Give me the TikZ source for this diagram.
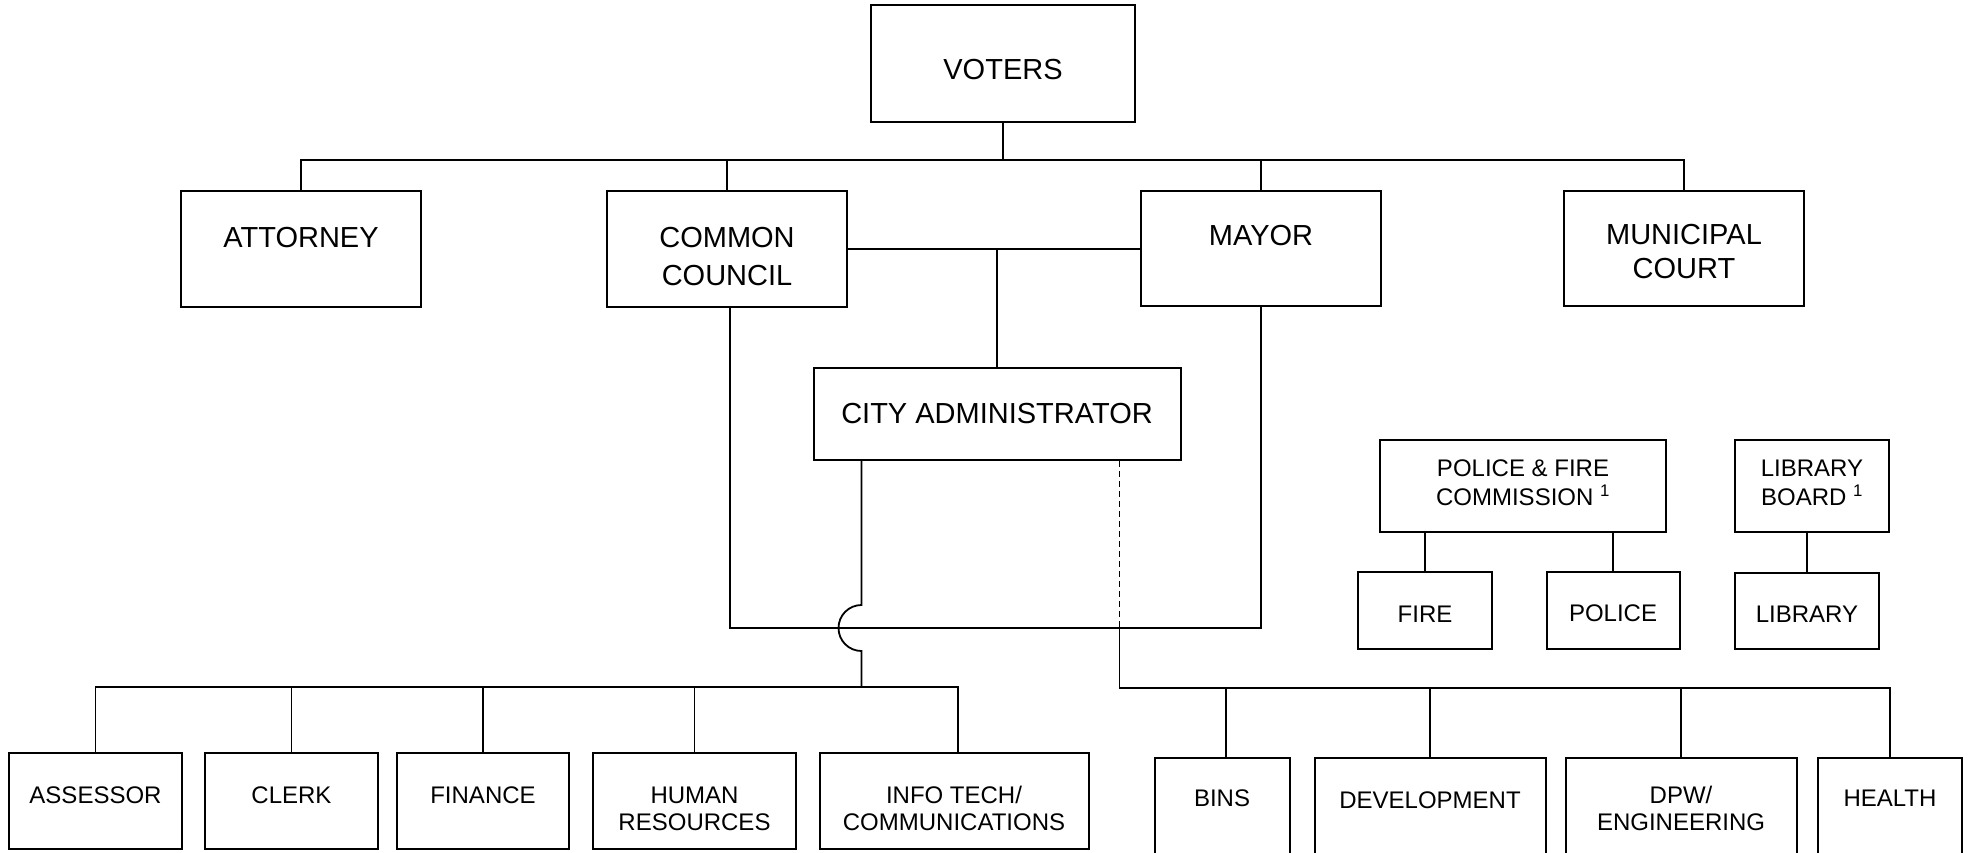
\documentclass[tikz,border=0pt]{standalone}
\usepackage{fontspec}
\setmainfont{Liberation Sans}
\newcommand{\down}[1]{\rule{0pt}{#1}}
\newcommand{\up}[1]{\rule[-#1]{0pt}{#1}}
\begin{document}
\begin{tikzpicture}[x=1pt, y=-1pt,
		box/.style = {draw, line width=2pt, inner sep=0pt, align=center},
		big/.style = {box, font=\fontsize{29}{34}\selectfont},
		small/.style = {box, font=\fontsize{24}{27}\selectfont},
		link/.style = {line width=1.8pt}
	]
	\clip (0,0) rectangle (1971,852);
	\node[big, minimum width=264pt, minimum height=117pt] (voters) at (1003,63.5) {\down{33pt}VOTERS};
	\node[big, minimum width=240pt, minimum height=116pt] (attorney) at (301,249) {\down{30pt}ATTORNEY\\\mbox{}};
	\node[big, font=\fontsize{29}{38}\selectfont, minimum width=240pt, minimum height=116pt] (council) at (727,249) {\down{36pt}COMMON\\COUNCIL};
	\node[big, minimum width=240pt, minimum height=115pt] (mayor) at (1261,248) {\down{28pt}MAYOR\\\mbox{}};
	\node[big, minimum width=240pt, minimum height=115pt] (court) at (1684,248) {\down{28pt}MUNICIPAL\\COURT};
	\node[big, minimum width=367pt, minimum height=92pt] (admin) at (997,414) {CITY ADMINISTRATOR};
	\node[small, font=\fontsize{24}{29}\selectfont, minimum width=286pt, minimum height=92pt] (commission) at (1523,486) {POLICE \& FIRE\\COMMISSION \textsuperscript{1}\up{6pt}};
	\node[small, font=\fontsize{24}{29}\selectfont, minimum width=154pt, minimum height=92pt] (board) at (1812,486) {LIBRARY\\BOARD \textsuperscript{1}\up{6pt}};
	\node[small, minimum width=134pt, minimum height=77pt] (fire) at (1425,610) {\down{24pt}FIRE};
	\node[small, minimum width=133pt, minimum height=77pt] (police) at (1613,610) {\down{24pt}POLICE};
	\node[small, minimum width=144pt, minimum height=76pt] (library) at (1807,611) {\down{22pt}LIBRARY};
	\node[small, minimum width=173pt, minimum height=96pt] (assessor) at (95.5,801) {\down{31.5pt}ASSESSOR\\\mbox{}};
	\node[small, minimum width=173pt, minimum height=96pt] (clerk) at (291.5,801) {\down{31.5pt}CLERK\\\mbox{}};
	\node[small, minimum width=172pt, minimum height=96pt] (finance) at (483,801) {\down{31.5pt}FINANCE\\\mbox{}};
	\node[small, minimum width=203pt, minimum height=96pt] (hr) at (694.5,801) {\down{31.5pt}HUMAN\\RESOURCES};
	\node[small, minimum width=269pt, minimum height=96pt] (infotech) at (954,801) {\down{31.5pt}INFO TECH/\\COMMUNICATIONS};
	\node[small, minimum width=135pt, minimum height=100pt] (bins) at (1222,808) {\down{24pt}BINS\\\mbox{}};
	\node[small, minimum width=231pt, minimum height=100pt] (development) at (1430,808) {\down{28.5pt}DEVELOPMENT\\\mbox{}};
	\node[small, minimum width=231pt, minimum height=100pt] (dpw) at (1681,808) {DPW/\\ENGINEERING};
	\node[small, minimum width=144pt, minimum height=100pt] (health) at (1890,808) {\down{24pt}HEALTH\\\mbox{}};

	\coordinate (topbus) at (0,160);
	\coordinate (hop) at (0,605);
	\coordinate (ring) at (0,628);
	\coordinate (leftbus) at (0,687);
	\coordinate (rightbus) at (0,688);

	\draw[link] (voters.south) -- (voters.south |- topbus);
	\draw[link] (attorney.north) -- (attorney.north |- topbus) -| (court.north);
	\foreach \n in {council,mayor}
		\draw[link] (\n.north) -- (\n.north |- topbus);
	\draw[link] (council.east) -- (council.east -| mayor.west);
	\draw[link] (admin.north) -- (admin.north |- council.east);
	\draw[link] ([xshift=3pt]council.south) -- ([xshift=3pt]council.south |- ring) -| (mayor.south);
	\draw[link] ([xshift=49pt]admin.south west) coordinate (solid) -- (solid |- hop)
		arc[start angle=270, end angle=90, radius=23] -- (solid |- leftbus);
	\draw[link] (assessor.north) -- (assessor.north |- leftbus) -| ([xshift=4pt]infotech.north);
	\foreach \n in {clerk,finance,hr}
		\draw[link] (\n.north) -- (\n.north |- leftbus);
	\draw[link, dash pattern=on 6pt off 4pt] ([xshift=-62pt]admin.south east) coordinate (dash) -- (dash |- ring);
	\draw[link] (dash |- ring) -- (dash |- rightbus) -| (health.north);
	\draw[link] ([xshift=4pt]bins.north) -- ([xshift=4pt]bins.north |- rightbus);
	\foreach \n in {development,dpw}
		\draw[link] (\n.north) -- (\n.north |- rightbus);
	\foreach \n in {fire,police}
		\draw[link] (\n.north) -- (\n.north |- commission.south);
	\draw[link] (library.north) -- (library.north |- board.south);
\end{tikzpicture}
\end{document}
